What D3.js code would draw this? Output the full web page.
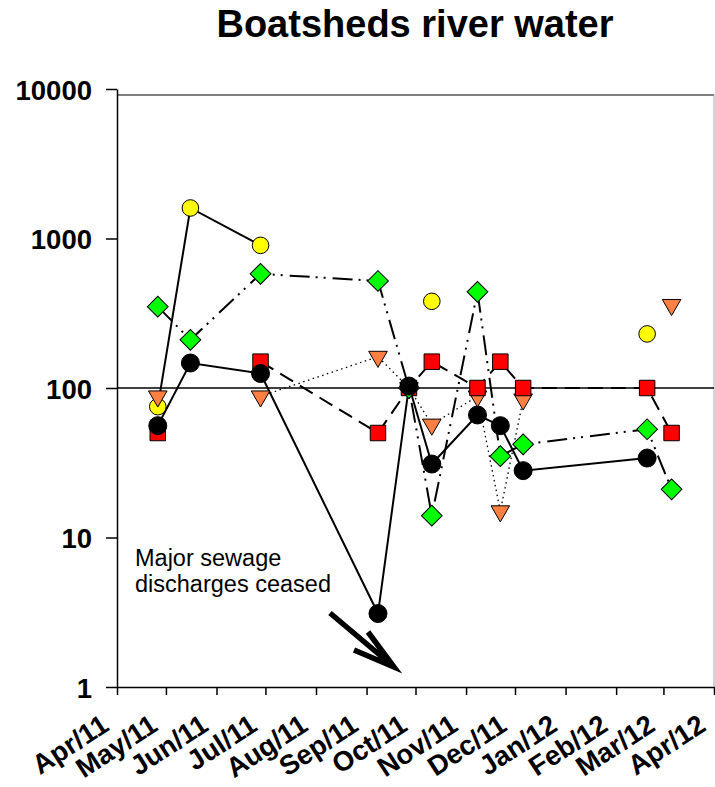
<!DOCTYPE html>
<html>
<head>
<meta charset="utf-8">
<script src="https://cdnjs.cloudflare.com/ajax/libs/d3/7.8.5/d3.min.js"></script>
<style>
  body { margin: 0; background: #fff; }
  svg { display: block; font-family: "Liberation Sans", Arial, sans-serif; }
</style>
</head>
<body>
<div id="chart-area"></div>
<script>
// sampling dates (Boatsheds)
var sampleDates = ["2011-04-26", "2011-05-16", "2011-06-28", "2011-09-08", "2011-09-27",
	"2011-10-11", "2011-11-08", "2011-11-22", "2011-12-06", "2012-02-20", "2012-03-06"];

// values per series, null = not sampled
var yellowVals = [75, 1600, 900, null, null, 380, null, null, null, 230, null];
var orangeVals = [88, null, 88, 162, 100, 57, 88, 15, 84, null, 360];
var redVals    = [50, null, 150, 50, 100, 150, 100, 150, 100, 100, 50];
var greenVals  = [350, 210, 580, 520, 100, 14, 440, 35, 42, 53, 21];
var blackVals  = [56, 147, 125, 3.1, 103, 31, 66, 56, 28, 34, null];

var yTicks = [1, 10, 100, 1000, 10000];
var xStart = "2011-04-01", xEnd = "2012-04-01";

var titleText = "Boatsheds river water";
var noteLines = ["Major sewage", "discharges ceased"];

/******************************
*	DIMENSIONS AND MARGINS	  *
******************************/
var margin = { top: 89, right: 1, bottom: 100, left: 117 };
var width = 597, height = 598;

var svg = d3.select("#chart-area")
	.append("svg")
		.attr("width", 715)
		.attr("height", 787);

var g = svg.append("g")
	.attr("transform", "translate(" + margin.left + ", " + margin.top + ")");

var parse = d3.timeParse("%Y-%m-%d");
var dates = sampleDates.map(parse);

// title
svg.append("text")
	.attr("x", 415)
	.attr("y", 37)
	.attr("text-anchor", "middle")
	.attr("font-size", "38px")
	.attr("font-weight", "bold")
	.text(titleText);

/******************************
*			SCALES			  *
******************************/
var x = d3.scaleTime()
	.domain([parse(xStart), parse(xEnd)])
	.range([0, width]);

var y = d3.scaleLog()
	.domain([1, 10000])
	.range([height, 0]);

// frame: top and right
g.append("line")
	.attr("x1", 0).attr("x2", width)
	.attr("y1", 6).attr("y2", 6)
	.attr("stroke", "#555").attr("stroke-width", 1.5);
g.append("line")
	.attr("x1", width).attr("x2", width)
	.attr("y1", 6).attr("y2", height)
	.attr("stroke", "#aaa").attr("stroke-width", 1);

// reference line at 100
g.append("line")
	.attr("x1", 0).attr("x2", width)
	.attr("y1", y(100)).attr("y2", y(100))
	.attr("stroke", "#000").attr("stroke-width", 1.5);

/******************************
*			AXES			  *
******************************/
var yAxis = g.append("g")
	.call(d3.axisLeft(y)
		.tickValues(yTicks)
		.tickFormat(d3.format("d"))
		.tickSize(11)
		.tickSizeOuter(0)
		.tickPadding(14));
yAxis.selectAll("path, line").attr("stroke", "#000").attr("stroke-width", 1.5);
yAxis.selectAll("text")
	.attr("font-size", "27.5px")
	.attr("font-weight", "bold")
	.attr("font-family", "Liberation Sans, Arial, sans-serif")
	.attr("fill", "#000")
	.attr("dy", "0.38em");

var xAxis = g.append("g")
	.attr("transform", "translate(0, " + height + ")")
	.call(d3.axisBottom(x)
		.ticks(d3.timeMonth.every(1))
		.tickFormat(d3.timeFormat("%b/%y"))
		.tickSize(8)
		.tickSizeOuter(0));
xAxis.selectAll("path, line").attr("stroke", "#000").attr("stroke-width", 1.5);
xAxis.selectAll("text")
	.attr("font-size", "27.5px")
	.attr("font-weight", "bold")
	.attr("font-family", "Liberation Sans, Arial, sans-serif")
	.attr("fill", "#000")
	.attr("text-anchor", "end")
	.attr("x", 0).attr("y", 0).attr("dy", 0)
	.attr("transform", "translate(-7, 42.5) rotate(-33)");

/******************************
*			SERIES			  *
******************************/
var series = [
	{ vals: yellowVals, fill: "#ffff00", shape: "circle", r: 8.3, dash: null },
	{ vals: orangeVals, fill: "#ff8040", shape: "triangle", dash: "1.5,3.5", lw: 1.3 },
	{ vals: redVals, fill: "#ff0000", shape: "square", dash: "15,8" },
	{ vals: greenVals, fill: "#00ff00", shape: "diamond", dash: "20,6,2,6,2,7" },
	{ vals: blackVals, fill: "#000000", shape: "circle", r: 9, dash: null }
];

var line = d3.line()
	.defined(function(d) { return d.v != null; })
	.x(function(d) { return x(d.date); })
	.y(function(d) { return y(d.v); });

series.forEach(function(s) {
	s.points = dates.map(function(dt, i) { return { date: dt, v: s.vals[i] }; });
});

// lines under markers
series.forEach(function(s) {
	g.append("path")
		.datum(s.points)
		.attr("fill", "none")
		.attr("stroke", "#000")
		.attr("stroke-width", s.lw || 2)
		.attr("stroke-dasharray", s.dash)
		.attr("d", line);
});

var shapes = {
	triangle: d3.symbol().type(d3.symbolTriangle).size(150),
	square: d3.symbol().type(d3.symbolSquare).size(240),
	diamond: d3.symbol().type(d3.symbolSquare).size(215)
};
var rotation = { triangle: 180, square: 0, diamond: 45 };

series.forEach(function(s) {
	var pts = g.append("g").selectAll(".pt")
		.data(s.points.filter(function(d) { return d.v != null; }))
		.enter();
	if (s.shape === "circle") {
		pts.append("circle")
			.attr("cx", function(d) { return x(d.date); })
			.attr("cy", function(d) { return y(d.v); })
			.attr("r", s.r)
			.attr("fill", s.fill)
			.attr("stroke", "#000")
			.attr("stroke-width", 1);
	} else {
		pts.append("path")
			.attr("d", shapes[s.shape])
			.attr("transform", function(d) {
				return "translate(" + x(d.date) + "," + y(d.v) + ") rotate(" + rotation[s.shape] + ")";
			})
			.attr("fill", s.fill)
			.attr("stroke", "#000")
			.attr("stroke-width", 1);
	}
});

/******************************
*		ANNOTATION			  *
******************************/
svg.append("text")
	.attr("font-size", "23.5px")
	.attr("fill", "#000")
	.selectAll("tspan")
	.data(noteLines)
	.enter().append("tspan")
		.attr("x", 135)
		.attr("y", function(d, i) { return 566 + i * 26; })
		.text(function(d) { return d; });

svg.append("path")
	.attr("d", "M330,613 L394,667 M368,632 L394,667 L354,650")
	.attr("fill", "none")
	.attr("stroke", "#000")
	.attr("stroke-width", 5.5)
	.attr("stroke-linejoin", "miter");
</script>
</body>
</html>
